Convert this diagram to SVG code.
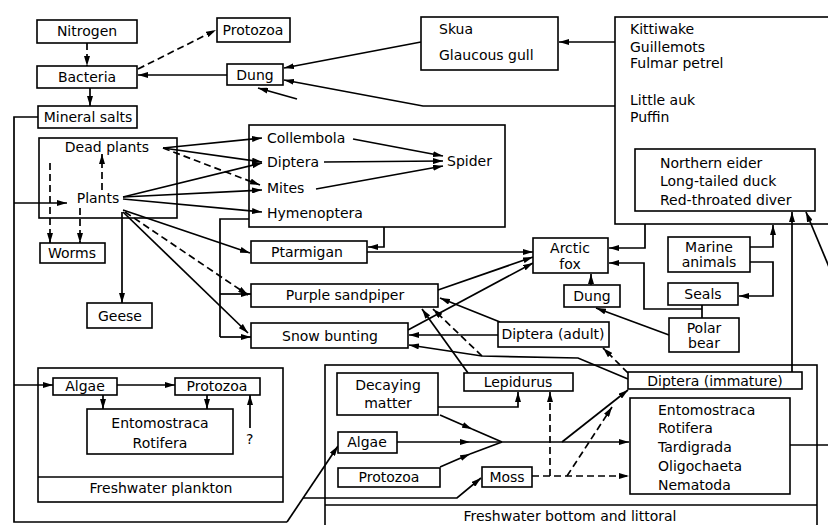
<svg xmlns="http://www.w3.org/2000/svg" width="828" height="525" viewBox="0 0 828 525">
<style>
.b{fill:#fff;stroke:#000;stroke-width:1.6}
.n{fill:none;stroke:#000;stroke-width:1.6}
text{font-family:"DejaVu Sans","Liberation Sans",sans-serif;font-size:14px;fill:#000}
.c{text-anchor:middle}
.l{fill:none;stroke:#000;stroke-width:1.7}
.a{marker-end:url(#ar)}
.d{stroke-dasharray:7,4}
</style>
<defs>
<marker id="ar" viewBox="0 0 10 6" refX="10" refY="3" markerWidth="10" markerHeight="6" markerUnits="userSpaceOnUse" orient="auto"><path d="M0,0 L10,3 L0,6 z" fill="#000"/></marker>
</defs>
<rect width="828" height="525" fill="#fff"/>

<!-- containers -->
<g id="seabirds">
<rect class="b" x="615" y="17" width="214" height="207"/>
<text x="630" y="34">Kittiwake</text>
<text x="630" y="52">Guillemots</text>
<text x="630" y="68">Fulmar petrel</text>
<text x="630" y="105">Little auk</text>
<text x="630" y="122">Puffin</text>
</g>
<g id="ducks">
<rect class="b" x="635" y="149" width="180" height="62"/>
<text x="660" y="168">Northern eider</text>
<text x="660" y="186">Long-tailed duck</text>
<text x="660" y="205">Red-throated diver</text>
</g>
<g id="insects">
<rect class="b" x="249" y="125" width="256" height="102"/>
<text x="267" y="143">Collembola</text>
<text x="267" y="167">Diptera</text>
<text x="267" y="193">Mites</text>
<text x="267" y="218">Hymenoptera</text>
<text x="447" y="166">Spider</text>
</g>
<g id="plantsbox">
<rect class="b" x="39" y="138" width="138" height="80"/>
<text class="c" x="107" y="152">Dead plants</text>
<text class="c" x="98" y="203">Plants</text>
</g>
<g id="plankton">
<rect class="b" x="38" y="368" width="245" height="134"/>
<line class="n" x1="38" y1="477" x2="283" y2="477"/>
<text class="c" x="161" y="493">Freshwater plankton</text>
</g>
<g id="bottom">
<rect class="b" x="325" y="365" width="492" height="170"/>
<line class="n" x1="325" y1="505" x2="817" y2="505"/>
<text class="c" x="570" y="521">Freshwater bottom and littoral</text>
</g>

<!-- connectors -->
<g id="connectors">
<line class="l a d" x1="87" y1="43" x2="87" y2="66"/>
<line class="l a" x1="90" y1="88" x2="90" y2="106"/>
<line class="l a d" x1="138" y1="69" x2="216" y2="30"/>
<line class="l a" x1="227" y1="75" x2="138" y2="75"/>
<line class="l a" x1="421" y1="42" x2="284" y2="68"/>
<polyline class="l a" points="615,106 423,106 284,80"/>
<line class="l a" x1="297" y1="99" x2="258" y2="88"/>
<line class="l a" x1="615" y1="42" x2="559" y2="42"/>

<!-- outer loop from mineral salts -->
<polyline class="l" points="38,117 14,117 14,522 287,522"/>
<line class="l a" x1="287" y1="522" x2="338" y2="446"/>
<line class="l a" x1="14" y1="203" x2="67" y2="203"/>
<line class="l a" x1="14" y1="385" x2="53" y2="385"/>
<polyline class="l a" points="303,498 457,498 481,478"/>

<!-- plants area -->
<line class="l a d" x1="102" y1="190" x2="102" y2="154"/>
<line class="l a d" x1="50" y1="163" x2="50" y2="243"/>
<line class="l a d" x1="80" y1="208" x2="80" y2="243"/>
<line class="l a" x1="122" y1="212" x2="122" y2="303"/>
<line class="l a" x1="163" y1="148" x2="262" y2="138"/>
<line class="l a" x1="163" y1="148" x2="262" y2="162"/>
<line class="l a d" x1="163" y1="148" x2="260" y2="185"/>
<line class="l a" x1="123" y1="197" x2="262" y2="163"/>
<line class="l a" x1="123" y1="197" x2="262" y2="190"/>
<line class="l a" x1="123" y1="199" x2="262" y2="212"/>
<line class="l a" x1="123" y1="210" x2="250" y2="253"/>
<line class="l a d" x1="125" y1="212" x2="248" y2="295"/>
<line class="l a" x1="123" y1="212" x2="248" y2="333"/>
<polyline class="l" points="249,219 220,219 220,337"/>
<line class="l a" x1="220" y1="294" x2="251" y2="294"/>
<line class="l a" x1="220" y1="337" x2="251" y2="337"/>

<!-- spider -->
<line class="l a" x1="353" y1="139" x2="443" y2="156"/>
<line class="l a" x1="324" y1="162" x2="443" y2="161"/>
<line class="l a" x1="316" y1="189" x2="443" y2="166"/>

<!-- ptarmigan -->
<polyline class="l a" points="384,227 384,247 368,247"/>
<line class="l a" x1="367" y1="252" x2="533" y2="252"/>
<line class="l a" x1="438" y1="290" x2="533" y2="257"/>
<line class="l a" x1="408" y1="330" x2="533" y2="263"/>

<!-- arctic fox area -->
<polyline class="l a" points="645,224 645,248 609,248"/>
<polyline class="l a" points="750,247 773,247 773,225"/>
<polyline class="l a" points="750,262 773,262 773,296 739,296"/>
<line class="l" x1="702" y1="305" x2="702" y2="318"/>
<polyline class="l a" points="702,309 644,309 644,263 609,263"/>
<line class="l a" x1="669" y1="335" x2="596" y2="308"/>
<line class="l a" x1="591" y1="285" x2="591" y2="274"/>

<!-- diptera etc -->
<line class="l a" x1="498" y1="335" x2="409" y2="335"/>
<line class="l a" x1="500" y1="322" x2="440" y2="298"/>
<line class="l a" x1="468" y1="373" x2="422" y2="309"/>
<line class="l a d" x1="482" y1="356" x2="433" y2="309"/>
<polyline class="l a" points="628,379 578,358 482,356 409,345"/>
<line class="l a d" x1="628" y1="373" x2="603" y2="348"/>
<line class="l a" x1="792" y1="372" x2="792" y2="212"/>
<line class="l a" x1="832" y1="274" x2="806" y2="212"/>
<line class="l" x1="790" y1="445" x2="830" y2="445"/>

<!-- plankton -->
<line class="l a" x1="117" y1="385" x2="175" y2="385"/>
<line class="l a" x1="103" y1="395" x2="103" y2="409"/>
<line class="l a" x1="207" y1="395" x2="207" y2="409"/>
<line class="l a" x1="250" y1="428" x2="250" y2="395"/>

<!-- freshwater bottom -->
<polyline class="l a" points="438,407 518,407 518,392"/>
<line class="l a" x1="440" y1="415" x2="472" y2="429"/>
<line class="l" x1="472" y1="429" x2="502" y2="442"/>
<line class="l a" x1="397" y1="442" x2="470" y2="442"/>
<line class="l a" x1="440" y1="467" x2="470" y2="454"/>
<line class="l" x1="470" y1="454" x2="502" y2="442"/>
<line class="l a" x1="470" y1="442" x2="629" y2="442"/>
<line class="l a" x1="562" y1="442" x2="628" y2="390"/>
<line class="l a d" x1="532" y1="476" x2="629" y2="476"/>
<line class="l a d" x1="550" y1="476" x2="550" y2="392"/>
<line class="l a d" x1="567" y1="476" x2="612" y2="407"/>
</g>

<!-- nodes -->
<g id="nitrogen"><rect class="b" x="37" y="20" width="100" height="23"/><text class="c" x="87" y="36">Nitrogen</text></g>
<g id="protozoa-top"><rect class="b" x="217" y="18" width="73" height="24"/><text class="c" x="253" y="35">Protozoa</text></g>
<g id="bacteria"><rect class="b" x="37" y="66" width="100" height="22"/><text class="c" x="87" y="82">Bacteria</text></g>
<g id="mineral-salts"><rect class="b" x="38" y="106" width="99" height="22"/><text class="c" x="88" y="122">Mineral salts</text></g>
<g id="dung-top"><rect class="b" x="227" y="64" width="56" height="21"/><text class="c" x="255" y="80">Dung</text></g>
<g id="skua"><rect class="b" x="421" y="17" width="137" height="53"/><text x="439" y="34">Skua</text><text x="439" y="60">Glaucous gull</text></g>
<g id="worms"><rect class="b" x="40" y="243" width="65" height="20"/><text class="c" x="72" y="258">Worms</text></g>
<g id="geese"><rect class="b" x="87" y="303" width="65" height="25"/><text class="c" x="120" y="321">Geese</text></g>
<g id="ptarmigan"><rect class="b" x="251" y="241" width="116" height="22"/><text class="c" x="307" y="257">Ptarmigan</text></g>
<g id="purple-sandpiper"><rect class="b" x="251" y="284" width="187" height="23"/><text class="c" x="345" y="300">Purple sandpiper</text></g>
<g id="snow-bunting"><rect class="b" x="251" y="323" width="157" height="25"/><text class="c" x="330" y="341">Snow bunting</text></g>
<g id="arctic-fox"><rect class="b" x="533" y="238" width="75" height="35"/><text class="c" x="570" y="253">Arctic</text><text class="c" x="570" y="269">fox</text></g>
<g id="dung-mid"><rect class="b" x="564" y="285" width="56" height="22"/><text class="c" x="592" y="301">Dung</text></g>
<g id="marine-animals"><rect class="b" x="668" y="237" width="82" height="35"/><text class="c" x="709" y="252">Marine</text><text class="c" x="709" y="267">animals</text></g>
<g id="seals"><rect class="b" x="668" y="283" width="70" height="22"/><text class="c" x="703" y="299">Seals</text></g>
<g id="polar-bear"><rect class="b" x="669" y="318" width="70" height="34"/><text class="c" x="704" y="333">Polar</text><text class="c" x="704" y="348">bear</text></g>
<g id="diptera-adult"><rect class="b" x="498" y="322" width="111" height="25"/><text class="c" x="553" y="339">Diptera (adult)</text></g>
<g id="algae-pl"><rect class="b" x="53" y="378" width="64" height="17"/><text class="c" x="85" y="391">Algae</text></g>
<g id="protozoa-pl"><rect class="b" x="175" y="378" width="85" height="17"/><text class="c" x="217" y="391">Protozoa</text></g>
<g id="entomo-pl"><rect class="b" x="87" y="409" width="146" height="45"/><text class="c" x="160" y="428">Entomostraca</text><text class="c" x="160" y="448">Rotifera</text></g>
<text x="246" y="444">?</text>
<g id="decaying"><rect class="b" x="337" y="373" width="101" height="42"/><text class="c" x="388" y="390">Decaying</text><text class="c" x="388" y="408">matter</text></g>
<g id="lepidurus"><rect class="b" x="464" y="373" width="109" height="18"/><text class="c" x="518" y="387">Lepidurus</text></g>
<g id="diptera-imm"><rect class="b" x="628" y="372" width="174" height="17"/><text class="c" x="715" y="386">Diptera (immature)</text></g>
<g id="algae-b"><rect class="b" x="338" y="432" width="59" height="21"/><text class="c" x="367" y="447">Algae</text></g>
<g id="protozoa-b"><rect class="b" x="338" y="468" width="102" height="19"/><text class="c" x="389" y="482">Protozoa</text></g>
<g id="moss"><rect class="b" x="482" y="467" width="50" height="20"/><text class="c" x="507" y="482">Moss</text></g>
<g id="entomo-b"><rect class="b" x="630" y="398" width="160" height="96"/>
<text x="658" y="415">Entomostraca</text><text x="658" y="433">Rotifera</text><text x="658" y="452">Tardigrada</text><text x="658" y="471">Oligochaeta</text><text x="658" y="490">Nematoda</text></g>
</svg>
